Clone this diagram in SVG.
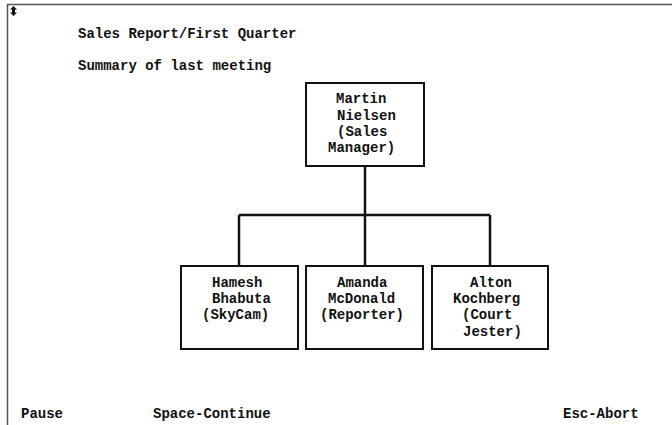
<svg xmlns="http://www.w3.org/2000/svg" width="672" height="425" viewBox="0 0 672 425">
<style>
text{font-family:"Liberation Mono","DejaVu Sans Mono",monospace;font-size:14px;font-weight:bold;fill:#111}
.box{fill:#fff;stroke:#111;stroke-width:2}
.con{stroke:#111;stroke-width:2.5;fill:none}
.frame{stroke:#555;stroke-width:1.5;fill:none}
</style>
<rect width="672" height="425" fill="#fff"/>
<path class="frame" d="M7.5,425 V4.5 H672"/>
<path d="M13.5,6 L17,9.5 H15 V12.5 H17 L13.5,16 L10,12.5 H12 V9.5 H10 Z" fill="#111"/>
<text x="78" y="38">Sales Report/First Quarter</text>
<text x="78" y="70">Summary of last meeting</text>
<g id="connectors">
<path class="con" d="M365,166 V265"/>
<path class="con" d="M239,215 H490"/>
<path class="con" d="M239,215 V266"/>
<path class="con" d="M490,215 V266"/>
</g>
<g id="martin">
<rect class="box" x="306" y="83" width="118" height="83"/>
<text x="336" y="103">Martin</text>
<text x="337" y="120">Nielsen</text>
<text x="337" y="136">(Sales</text>
<text x="328" y="152">Manager)</text>
</g>
<g id="hamesh">
<rect class="box" x="181" y="266" width="117" height="83"/>
<text x="212" y="287">Hamesh</text>
<text x="212" y="303">Bhabuta</text>
<text x="202" y="319">(SkyCam)</text>
</g>
<g id="amanda">
<rect class="box" x="306" y="266" width="117" height="83"/>
<text x="337" y="287">Amanda</text>
<text x="328" y="303">McDonald</text>
<text x="320" y="319">(Reporter)</text>
</g>
<g id="alton">
<rect class="box" x="432" y="266" width="116" height="83"/>
<text x="470" y="287">Alton</text>
<text x="453" y="303">Kochberg</text>
<text x="462" y="319">(Court</text>
<text x="463" y="336">Jester)</text>
</g>
<text x="21" y="418">Pause</text>
<text x="153" y="418">Space-Continue</text>
<text x="563" y="418">Esc-Abort</text>
</svg>
